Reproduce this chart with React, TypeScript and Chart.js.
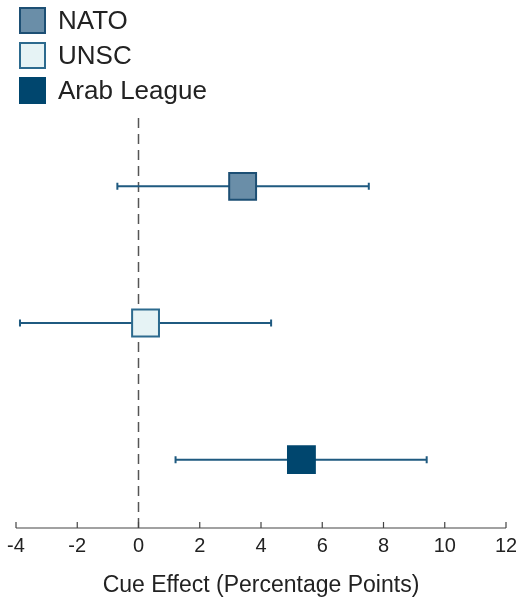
import React, { useEffect, useRef } from "react";
import { Chart, registerables } from "chart.js";

Chart.register(...registerables);

const categories = ["NATO", "UNSC", "Arab League"];
const estimates = [3.4, 0.23, 5.32];
const lowerBounds = [-0.69, -3.87, 1.21];
const upperBounds = [7.52, 4.33, 9.41];
const rowPositions = [3, 2, 1];
const fillColors = ["#6a8ea8", "#e6f3f5", "#00466e"];
const borderColors = ["#1d4f74", "#2c6a8e", "#00466e"];
const xTicks = [-4, -2, 0, 2, 4, 6, 8, 10, 12];
const xTitle = "Cue Effect (Percentage Points)";

const FONT = "'Liberation Sans', Arial, sans-serif";

const overlayPlugin = {
  id: "overlay",
  beforeDatasetsDraw(chart: any) {
    const { ctx, chartArea, scales } = chart;
    const xs = scales.x;
    const ys = scales.y;
    ctx.save();
    // dashed zero line
    const x0 = xs.getPixelForValue(0);
    ctx.strokeStyle = "#555555";
    ctx.lineWidth = 1.5;
    ctx.setLineDash([10, 6]);
    ctx.beginPath();
    ctx.moveTo(x0, chartArea.top);
    ctx.lineTo(x0, chartArea.bottom);
    ctx.stroke();
    ctx.setLineDash([]);
    // error bars
    ctx.strokeStyle = "#1f5a80";
    ctx.lineWidth = 2;
    categories.forEach((_, i) => {
      const y = ys.getPixelForValue(rowPositions[i]);
      const xl = xs.getPixelForValue(lowerBounds[i]);
      const xr = xs.getPixelForValue(upperBounds[i]);
      ctx.beginPath();
      ctx.moveTo(xl, y);
      ctx.lineTo(xr, y);
      ctx.moveTo(xl, y - 3.5);
      ctx.lineTo(xl, y + 3.5);
      ctx.moveTo(xr, y - 3.5);
      ctx.lineTo(xr, y + 3.5);
      ctx.stroke();
    });
    // axis line, upward ticks, labels, title
    ctx.strokeStyle = "#444444";
    ctx.lineWidth = 1.2;
    ctx.beginPath();
    ctx.moveTo(chartArea.left, chartArea.bottom);
    ctx.lineTo(chartArea.right, chartArea.bottom);
    xTicks.forEach((t) => {
      const x = xs.getPixelForValue(t);
      ctx.moveTo(x, chartArea.bottom);
      ctx.lineTo(x, chartArea.bottom - 6);
    });
    ctx.stroke();
    ctx.fillStyle = "#222222";
    ctx.textAlign = "center";
    ctx.textBaseline = "middle";
    ctx.font = `20px ${FONT}`;
    xTicks.forEach((t) => {
      ctx.fillText(String(t), xs.getPixelForValue(t), chartArea.bottom + 18);
    });
    ctx.font = `23px ${FONT}`;
    ctx.fillText(xTitle, (chartArea.left + chartArea.right) / 2, chartArea.bottom + 58);
    ctx.restore();
  },
  afterDraw(chart: any) {
    const { ctx } = chart;
    ctx.save();
    ctx.font = `26px ${FONT}`;
    ctx.textBaseline = "middle";
    ctx.textAlign = "left";
    categories.forEach((name, i) => {
      const cy = 20.5 + i * 35;
      ctx.fillStyle = fillColors[i];
      ctx.fillRect(19, cy - 13.5, 27, 27);
      ctx.strokeStyle = borderColors[i];
      ctx.lineWidth = 2;
      ctx.strokeRect(20, cy - 12.5, 25, 25);
      ctx.fillStyle = "#222222";
      ctx.fillText(name, 58, cy + 1);
    });
    ctx.restore();
  },
};

function App() {
  const canvasRef = useRef<HTMLCanvasElement | null>(null);

  useEffect(() => {
    document.body.style.margin = "0";
    const canvas = canvasRef.current!;
    const chart = new Chart(canvas, {
      type: "scatter",
      data: {
        datasets: categories.map((name, i) => ({
          label: name,
          data: [{ x: estimates[i], y: rowPositions[i] }],
          backgroundColor: fillColors[i],
          borderColor: borderColors[i],
          borderWidth: 2,
          pointStyle: "rect",
          pointRadius: 19,
          pointHoverRadius: 19,
        })),
      },
      options: {
        animation: false,
        responsive: false,
        events: [],
        layout: { autoPadding: false, padding: { left: 16, right: 10, top: 118, bottom: 74 } },
        plugins: {
          legend: { display: false },
          tooltip: { enabled: false },
        },
        scales: {
          x: {
            type: "linear",
            display: false,
            min: -4,
            max: 12,
          },
          y: {
            type: "linear",
            display: false,
            min: 0.5,
            max: 3.5,
          },
        },
      },
      plugins: [overlayPlugin],
    });
    return () => chart.destroy();
  }, []);

  return (
    <div style={{ width: 516, height: 602 }}>
      <canvas ref={canvasRef} width={516} height={602} style={{ display: "block" }} />
    </div>
  );
}

export default App;
